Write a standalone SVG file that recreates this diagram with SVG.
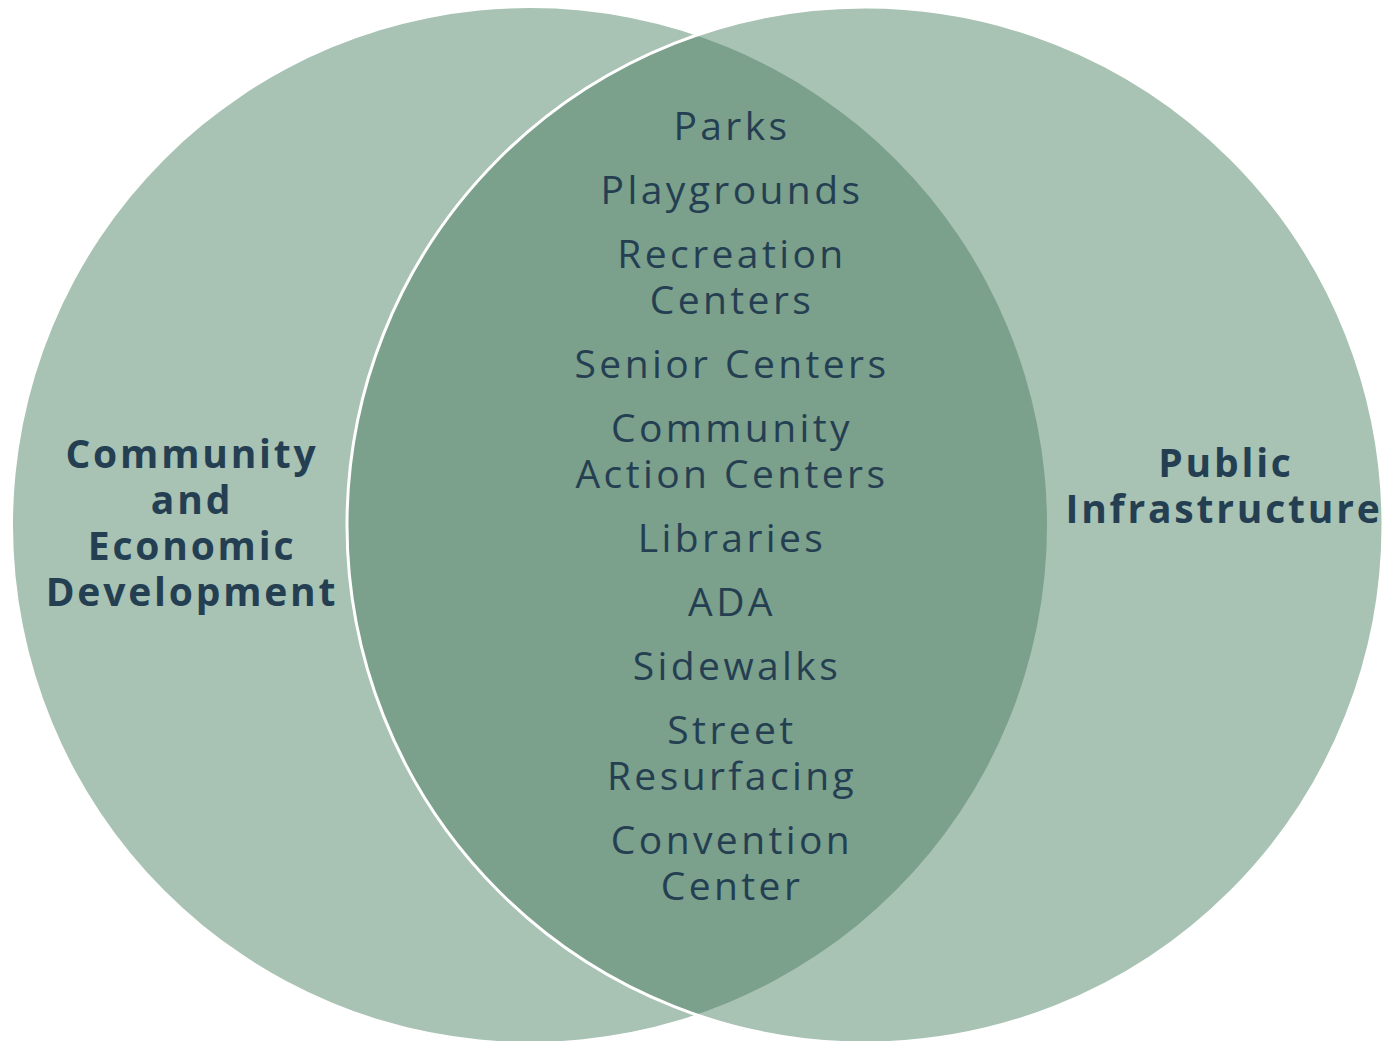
<svg xmlns="http://www.w3.org/2000/svg" width="1385" height="1041" viewBox="0 0 1385 1041">
  <defs>
    <clipPath id="clipLeft">
      <circle cx="530" cy="525" r="517"/>
    </clipPath>
  </defs>
  <style>
    .light { fill: #A8C2B4; }
    .dark { fill: #7BA08B; }
    .edge { fill: none; stroke: #FFFFFF; stroke-width: 3; }
    .item { font-family: "Open Sans", "Noto Sans", "Liberation Sans", sans-serif; font-size: 39px; letter-spacing: 3.4px; fill: #253F52; text-anchor: middle; }
    .title { font-family: "Open Sans", "Noto Sans", "Liberation Sans", sans-serif; font-size: 39px; letter-spacing: 2.8px; font-weight: bold; fill: #253F52; text-anchor: middle; }
  </style>
  <rect width="1385" height="1041" fill="#FFFFFF"/>
  <g id="circle-community">
    <circle class="light" cx="530" cy="525" r="517"/>
  </g>
  <g id="circle-infrastructure">
    <circle class="light" cx="865" cy="525" r="518"/>
  </g>
  <g id="overlap">
    <circle class="dark" cx="865" cy="525" r="518" clip-path="url(#clipLeft)"/>
    <circle class="edge" cx="865" cy="525" r="518"/>
  </g>
  <g id="label-community">
    <text class="title" x="192" y="468">Community</text>
    <text class="title" x="192" y="514">and</text>
    <text class="title" x="192" y="560">Economic</text>
    <text class="title" x="192" y="606">Development</text>
  </g>
  <g id="label-infrastructure">
    <text class="title" x="1226" y="477">Public</text>
    <text class="title" x="1224" y="523">Infrastructure</text>
  </g>
  <g id="shared-items">
    <text class="item" x="732" y="140">Parks</text>
    <text class="item" x="732" y="204">Playgrounds</text>
    <text class="item" x="732" y="268">Recreation</text>
    <text class="item" x="732" y="314">Centers</text>
    <text class="item" x="732" y="378">Senior Centers</text>
    <text class="item" x="732" y="442">Community</text>
    <text class="item" x="732" y="488">Action Centers</text>
    <text class="item" x="732" y="552">Libraries</text>
    <text class="item" x="732" y="616">ADA</text>
    <text class="item" x="737" y="680">Sidewalks</text>
    <text class="item" x="732" y="744">Street</text>
    <text class="item" x="732" y="790">Resurfacing</text>
    <text class="item" x="732" y="854">Convention</text>
    <text class="item" x="732" y="900">Center</text>
  </g>
</svg>
